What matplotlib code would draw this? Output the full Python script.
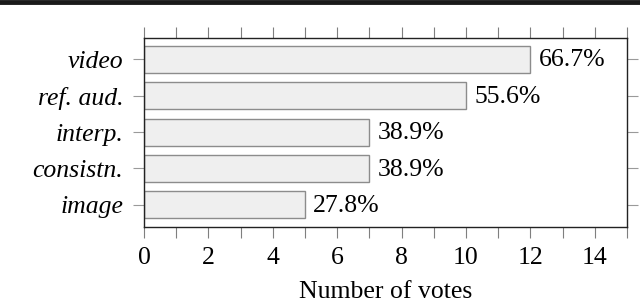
import numpy as np
import matplotlib
matplotlib.use("Agg")
import matplotlib.pyplot as plt

categories = ["video", "ref. aud.", "interp.", "consistn.", "image"]
votes = [12, 10, 7, 7, 5]
percent_labels = ["66.7%", "55.6%", "38.9%", "38.9%", "27.8%"]

matplotlib.rcParams.update({'font.family': 'Liberation Serif', 'font.size': 18.5})

fig = plt.figure(figsize=(6.4, 3.03), dpi=100, facecolor='white')
ax = fig.add_axes([0.225, 0.2498, 0.7547, 0.6238])

ypos = np.arange(len(categories))
ax.barh(ypos, votes, height=0.74, color='#efefef', edgecolor='#8c8c8c', linewidth=1.0)
for y, v, lab in zip(ypos, votes, percent_labels):
    ax.text(v + 0.25, y + 0.03, lab, va='center', ha='left')

ax.set_xlim(0, 15)
ax.set_ylim(4.62, -0.58)
ax.set_yticks(ypos)
ax.set_yticklabels(categories, fontstyle='italic')
ax.set_xticks(np.arange(0, 16, 1))
ax.set_xticklabels([str(i) if i % 2 == 0 and i < 15 else "" for i in range(16)])
ax.tick_params(axis='x', which='both', direction='out', length=8, color='#7f7f7f',
               top=True, bottom=True, pad=6.5)
ax.tick_params(axis='y', direction='out', length=8, color='#9a9a9a',
               left=True, right=True, pad=7)
for s in ax.spines.values():
    s.set_color('#222222')
    s.set_linewidth(1.0)

ax.set_xlabel("Number of votes", labelpad=8.5)

# thick rule at the very top
fig.add_artist(plt.Line2D([0, 1], [0.994, 0.994], color='#1a1a1a', linewidth=3.5,
                          transform=fig.transFigure))

fig.savefig("out.png", dpi=100)
